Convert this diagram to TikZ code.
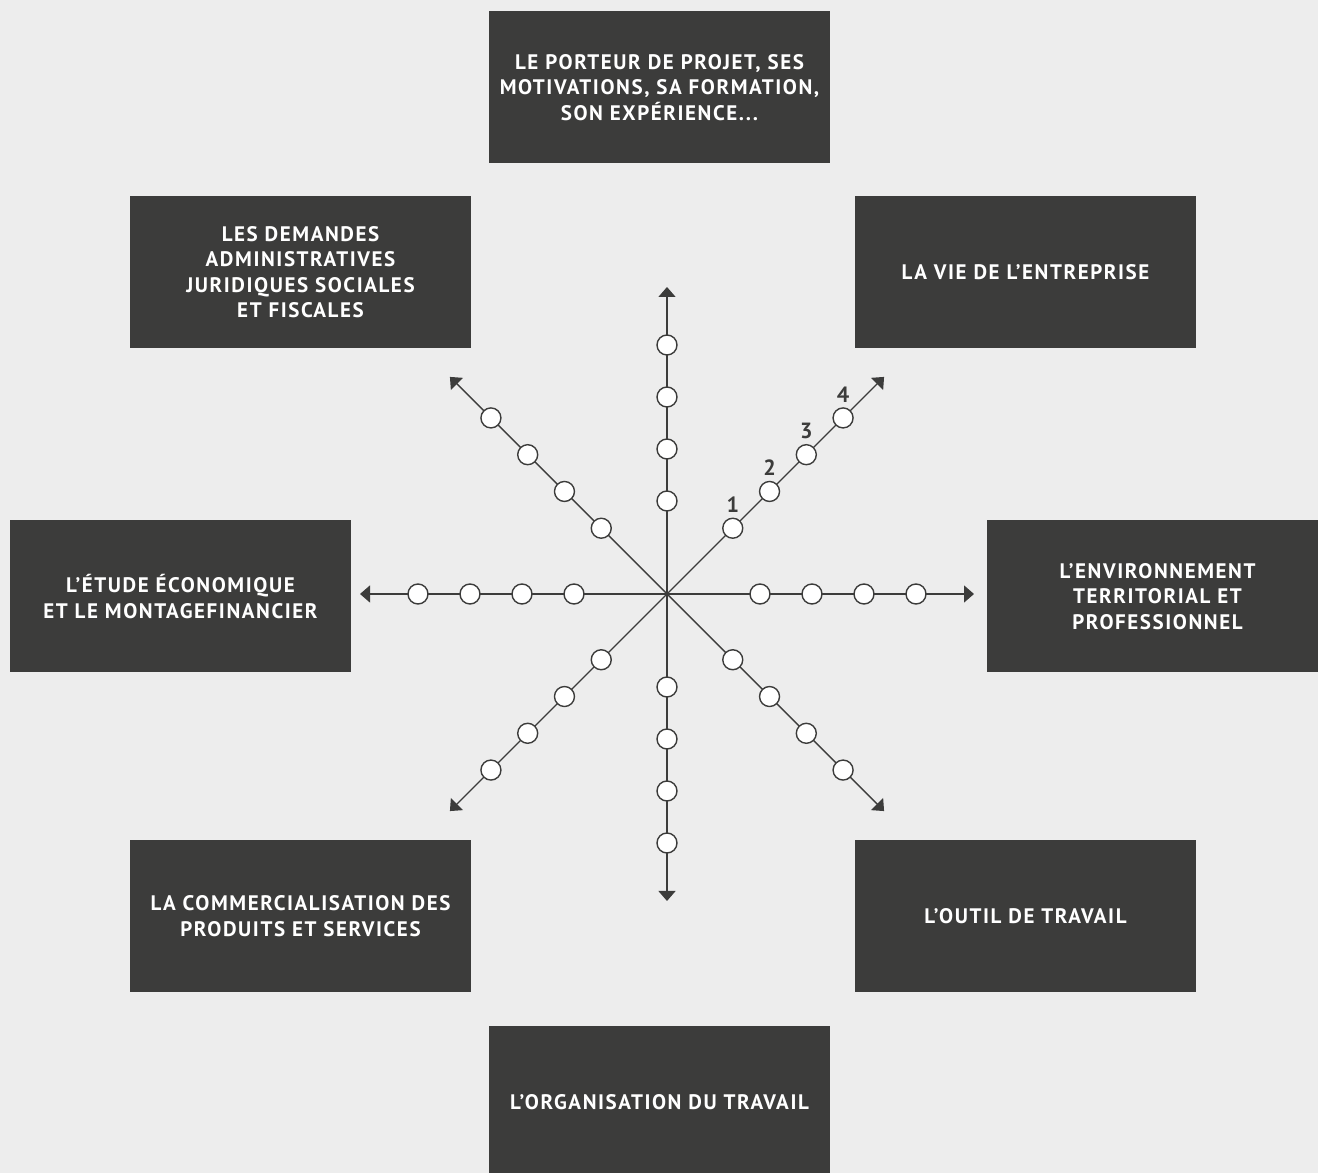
\documentclass[tikz,border=0pt]{standalone}
\usepackage{fontspec}
\setmainfont{PT Sans}
\newfontfamily\titrefont[LetterSpace=7.5]{PT Sans}
\usetikzlibrary{arrows.meta,positioning}
\definecolor{fond}{HTML}{EDEDED}
\definecolor{sombre}{HTML}{3C3C3B}

\begin{document}
\begin{tikzpicture}[x=1pt,y=1pt]
	\tikzstyle{bloc}=[fill=sombre,text=white,minimum width=341pt,minimum height=152pt,
	inner sep=0pt,align=center,font=\titrefont\bfseries\fontsize{21}{25.5}\selectfont]
	\tikzstyle{etape}=[circle,draw=sombre,line width=1.4pt,fill=white,minimum size=20pt,inner sep=0pt]
	\tikzstyle{axe}=[draw=sombre,line width=1.4pt,-{Triangle[length=10pt,width=17pt]}]
	\tikzstyle{num}=[text=sombre,inner sep=0pt,font=\titrefont\bfseries\fontsize{22}{22}\selectfont]
	\useasboundingbox (0,0) rectangle (1318,1173);
	\fill[fond] (0,0) rectangle (1318,1173);
	\clip (0,0) rectangle (1318,1173);
	\node[bloc] (porteur) at (659.5,1085.5) {LE PORTEUR DE PROJET, SES\\MOTIVATIONS, SA FORMATION,\\SON EXPÉRIENCE...};
	\node[bloc] (demandes) at (300.5,901) {LES DEMANDES\\ADMINISTRATIVES\\JURIDIQUES SOCIALES\\ET FISCALES};
	\node[bloc] (vie) at (1025.5,901) {LA VIE DE L’ENTREPRISE};
	\node[bloc] (etude) at (180.5,576.5) {L’ÉTUDE ÉCONOMIQUE\\ET LE MONTAGEFINANCIER};
	\node[bloc] (environnement) at (1157.5,576.5) {L’ENVIRONNEMENT\\TERRITORIAL ET\\PROFESSIONNEL};
	\node[bloc] (commercialisation) at (300.5,257) {LA COMMERCIALISATION DES\\PRODUITS ET SERVICES};
	\node[bloc] (outil) at (1025.5,257) {L’OUTIL DE TRAVAIL};
	\node[bloc] (organisation) at (659.5,71) {L’ORGANISATION DU TRAVAIL};
	\coordinate (c) at (667,579);
	\foreach \a in {0,45,...,315} {
		\coordinate (e\a) at ([shift={(\a:307)}]c);
		\draw[axe] (c) -- (e\a);
		\foreach \i/\r in {1/93,2/145,3/197,4/249}
			\node[etape] (p\a-\i) at ([shift={(\a:\r)}]c) {};
	}
	\node[num,above=5pt of p45-1] (n1) {1};
	\node[num,above=5pt of p45-2] (n2) {2};
	\node[num,above=5pt of p45-3] (n3) {3};
	\node[num,above=5pt of p45-4] (n4) {4};
\end{tikzpicture}
\end{document}
